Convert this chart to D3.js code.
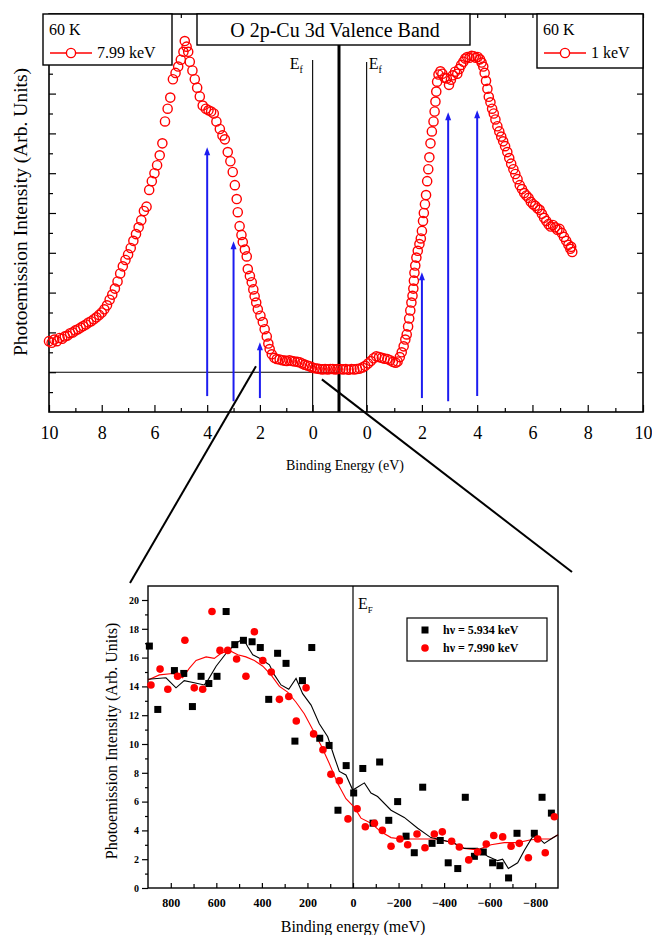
<!DOCTYPE html>
<html>
<head>
<meta charset="utf-8">
<script src="https://cdn.jsdelivr.net/npm/d3@7"></script>
<style>
  body { margin: 0; background: #fff; }
  svg { display: block; }
  text { font-family: "Liberation Serif", "Times New Roman", serif; fill: #000; }
</style>
</head>
<body>
<svg id="chart" width="652" height="935"></svg>
<script>
// ---------- Valence band spectra (binding energy in eV, intensity in arb. units) ----------
const energy799 = [10.0, 9.9, 9.8, 9.7, 9.6, 9.5, 9.4, 9.3, 9.2, 9.1, 9.0, 8.9, 8.8, 8.7, 8.6, 8.5, 8.4, 8.3, 8.2, 8.1,
  8.0, 7.9, 7.8, 7.7, 7.6, 7.5, 7.4, 7.3, 7.2, 7.1, 7.0, 6.9, 6.8, 6.7, 6.6, 6.5, 6.4, 6.3, 6.2, 6.1,
  6.0, 5.9, 5.8, 5.7, 5.6, 5.5, 5.4, 5.3, 5.2, 5.1, 5.0, 4.9, 4.85, 4.78, 4.72, 4.66, 4.56, 4.47, 4.38, 4.28,
  4.17, 4.05, 3.95, 3.85, 3.75, 3.65, 3.52, 3.42, 3.33, 3.22, 3.12, 3.03, 2.95, 2.88, 2.84, 2.77, 2.70, 2.65, 2.57, 2.50,
  2.46, 2.38, 2.31, 2.25, 2.20, 2.14, 2.08, 1.98, 1.89, 1.82, 1.74, 1.68, 1.63, 1.55, 1.45, 1.36, 1.25, 1.15, 1.05, 0.98,
  0.88, 0.78, 0.68, 0.58, 0.49, 0.40, 0.30, 0.20, 0.11, 0.02, -0.08, -0.18, -0.27, -0.37, -0.47, -0.57, -0.67, -0.76, -0.86, -0.95];
const intensity799 = [0.78, 0.74, 0.82, 0.78, 0.86, 0.84, 0.90, 0.92, 0.98, 1.00, 1.05, 1.08, 1.12, 1.16, 1.20, 1.25, 1.28, 1.33, 1.38, 1.44,
  1.50, 1.58, 1.68, 1.82, 1.95, 2.10, 2.28, 2.48, 2.66, 2.82, 2.96, 3.12, 3.30, 3.47, 3.64, 3.82, 4.05, 4.16, 4.58, 4.80,
  5.00, 5.20, 5.45, 5.75, 6.30, 6.62, 6.90, 7.36, 7.52, 7.68, 7.85, 8.05, 8.32, 8.18, 8.05, 7.80, 7.58, 7.36, 7.15, 6.93,
  6.70, 6.62, 6.58, 6.55, 6.50, 6.30, 6.11, 5.95, 5.85, 5.53, 5.30, 5.03, 4.70, 4.35, 4.02, 3.67, 3.45, 3.27, 3.08, 2.91,
  2.59, 2.42, 2.26, 2.08, 1.91, 1.75, 1.58, 1.42, 1.26, 1.08, 0.90, 0.72, 0.58, 0.45, 0.36, 0.33, 0.32, 0.30, 0.29, 0.28,
  0.30, 0.28, 0.27, 0.26, 0.25, 0.22, 0.19, 0.17, 0.15, 0.12, 0.10, 0.09, 0.08, 0.07, 0.08, 0.07, 0.08, 0.08, 0.07, 0.08];

const energy1k = [-0.95, -0.85, -0.75, -0.65, -0.55, -0.45, -0.35, -0.25, -0.15, -0.05, 0.05, 0.15, 0.25, 0.35, 0.45, 0.55, 0.65, 0.75, 0.85, 0.95,
  1.05, 1.12, 1.20, 1.27, 1.34, 1.40, 1.45, 1.50, 1.54, 1.58, 1.62, 1.66, 1.69, 1.71, 1.73, 1.76, 1.80, 1.85, 1.91, 1.96,
  2.00, 2.04, 2.07, 2.11, 2.15, 2.19, 2.23, 2.27, 2.31, 2.36, 2.42, 2.46, 2.49, 2.52, 2.55, 2.60, 2.67, 2.74, 2.82, 2.90,
  2.98, 3.05, 3.12, 3.20, 3.28, 3.35, 3.42, 3.50, 3.57, 3.64, 3.72, 3.80, 3.88, 3.95, 4.02, 4.10, 4.16, 4.22, 4.27, 4.32,
  4.37, 4.42, 4.48, 4.54, 4.60, 4.66, 4.73, 4.80, 4.87, 4.94, 5.01, 5.09, 5.16, 5.23, 5.31, 5.38, 5.46, 5.54, 5.62, 5.70,
  5.78, 5.86, 5.94, 6.02, 6.10, 6.18, 6.26, 6.34, 6.42, 6.50, 6.58, 6.66, 6.74, 6.82, 6.90, 6.98, 7.06, 7.14, 7.22, 7.30,
  7.37, 7.44, 7.40];
const intensity1k = [0.08, 0.07, 0.08, 0.06, 0.08, 0.07, 0.08, 0.09, 0.12, 0.16, 0.22, 0.28, 0.35, 0.40, 0.38, 0.36, 0.34, 0.33, 0.30, 0.26,
  0.24, 0.27, 0.38, 0.50, 0.65, 0.82, 0.95, 1.15, 1.35, 1.55, 1.75, 1.92, 2.10, 2.30, 2.50, 2.68, 2.88, 3.05, 3.22, 3.36,
  3.55, 3.80, 4.00, 4.22, 4.45, 4.80, 5.10, 5.40, 5.75, 6.05, 6.30, 6.55, 6.80, 7.05, 7.30, 7.48, 7.56, 7.50, 7.40, 7.38,
  7.22, 7.35, 7.46, 7.55, 7.50, 7.62, 7.72, 7.80, 7.88, 7.92, 7.90, 7.95, 7.94, 7.90, 7.92, 7.86, 7.78, 7.68, 7.52, 7.32,
  7.12, 6.92, 6.78, 6.62, 6.50, 6.35, 6.18, 6.05, 5.92, 5.80, 5.68, 5.53, 5.38, 5.24, 5.10, 4.98, 4.85, 4.70, 4.60, 4.50,
  4.44, 4.38, 4.28, 4.22, 4.18, 4.12, 4.08, 3.98, 3.88, 3.80, 3.72, 3.66, 3.70, 3.64, 3.58, 3.60, 3.50, 3.40, 3.30, 3.20,
  3.10, 3.02, 3.15];

// Arrows marking features (energy, top, base) for each half
const arrowEnergyLeft = [4, 3, 2];
const arrowTopLeft = [5.65, 3.29, 0.75];
const arrowBaseLeft = [-0.6, -0.73, -0.65];
const arrowEnergyRight = [2, 2.95, 4];
const arrowTopRight = [2.51, 6.53, 6.58];
const arrowBaseRight = [-0.65, -0.73, -0.6];

const topTicksLeft = [10, 8, 6, 4, 2, 0];
const topTicksRight = [0, 2, 4, 6, 8, 10];

// ---------- Near-Fermi-level detail (meV, arb. units) ----------
const blackE = [894, 857, 784, 743, 705, 667, 633, 597, 557, 519, 481, 443, 407, 370, 331, 294, 255, 222, 181, 146,
  105, 66, 30, -3, -43, -88, -117, -157, -196, -233, -269, -306, -347, -383, -418, -460, -493, -533, -572, -613,
  -645, -683, -720, -796, -830, -871];
const blackI = [16.8, 12.4, 15.1, 14.9, 12.6, 14.7, 14.2, 14.7, 19.2, 16.9, 17.2, 17.1, 16.7, 13.1, 16.3, 15.6, 10.2, 14.4, 16.7, 10.4,
  9.9, 5.4, 8.5, 6.6, 8.3, 4.5, 8.75, 4.7, 6.0, 3.6, 2.45, 7.0, 3.1, 3.3, 1.75, 1.35, 6.3, 2.2, 2.5, 1.75,
  1.55, 0.7, 3.8, 3.8, 6.3, 5.2];

const redE = [887, 847, 813, 770, 738, 697, 660, 619, 584, 550, 511, 470, 433, 396, 359, 323, 282, 249, 206, 173,
  132, 97, 60, 22, -18, -54, -94, -129, -167, -206, -240, -281, -316, -357, -392, -433, -467, -508, -547, -585,
  -618, -657, -694, -730, -770, -811, -844, -884];
const redI = [14.1, 15.2, 13.8, 14.7, 17.2, 13.9, 13.8, 19.2, 16.5, 16.5, 15.9, 14.7, 17.8, 15.8, 15.0, 13.1, 13.3, 11.6, 13.9, 10.7,
  9.6, 7.9, 7.45, 4.8, 5.5, 4.25, 4.5, 4.0, 2.9, 3.4, 3.0, 3.75, 2.8, 3.75, 3.9, 3.25, 2.85, 1.95, 2.5, 3.05,
  3.65, 3.55, 2.9, 3.1, 2.1, 3.4, 2.45, 4.95];

const blackLineE = [900, 821, 777, 741, 697, 653, 638, 601, 557, 514, 481, 462, 440, 404, 367, 345, 316, 282, 250, 221,
  184, 148, 111, 82, 60, 31, 1, -50, -79, -108, -167, -225, -284, -342, -401, -445, -489, -547, -591, -635,
  -657, -682, -723, -752, -788, -810, -840, -869, -900];
const blackLineI = [14.5, 14.6, 13.9, 14.4, 14.25, 14.1, 14.4, 15.4, 16.3, 17.0, 17.3, 16.75, 16.2, 15.9, 15.5, 14.8, 14.1, 13.8, 14.55, 13.5,
  12.7, 11.4, 10.5, 9.1, 8.1, 7.85, 6.8, 7.3, 6.6, 6.35, 5.4, 4.9, 4.15, 3.5, 3.3, 3.1, 2.75, 2.75, 2.2, 1.9,
  2.0, 1.35, 1.75, 2.6, 3.55, 3.55, 3.1, 3.4, 3.7];

const redLineE = [900, 850, 791, 748, 719, 689, 645, 609, 579, 543, 506, 470, 433, 396, 360, 323, 287, 250, 214, 177,
  140, 104, 67, 31, -6, -35, -79, -123, -167, -211, -284, -357, -430, -489, -547, -606, -664, -723, -782, -825,
  -869, -900];
const redLineI = [14.45, 14.8, 14.9, 14.6, 15.25, 15.8, 16.05, 15.95, 16.3, 16.5, 16.2, 16.05, 15.8, 15.4, 14.8, 14.0, 13.6, 12.9, 12.1, 11.0,
  9.9, 8.65, 7.25, 6.2, 5.6, 4.85, 4.5, 3.9, 3.5, 3.4, 3.4, 3.4, 3.2, 2.75, 2.65, 3.0, 3.15, 3.15, 3.35, 3.4,
  3.4, 3.7];

const insetXTicks = [800, 600, 400, 200, 0, -200, -400, -600, -800];
const insetYTicks = [0, 2, 4, 6, 8, 10, 12, 14, 16, 18, 20];

const RED = "#ff0000", BLUE = "#1c1cf0";
const svg = d3.select("#chart");

// ================= Upper panel =================
const P = { l: 49, r: 643, t: 14, b: 412, mid: 339 };
const xL = d3.scaleLinear().domain([10, -1]).range([P.l, P.mid]);
const xR = d3.scaleLinear().domain([-1, 10]).range([P.mid, P.r]);
const yT = d3.scaleLinear().domain([-1, 9]).range([P.b, P.t]);

function axis(gen, scale, vals, size, pad, transform, withLabels, fontSize, weight) {
  const a = gen(scale).tickValues(vals).tickSizeInner(size).tickSizeOuter(0).tickPadding(pad);
  if (!withLabels) a.tickFormat("");
  const g = svg.append("g").attr("transform", transform).call(a);
  g.select(".domain").remove();
  g.selectAll(".tick line").attr("stroke", "#000").attr("stroke-width", 1.2);
  g.attr("font-family", null).attr("font-size", null);
  g.selectAll("text").style("font-size", fontSize + "px").style("font-weight", weight || "normal")
    .style("font-family", "'Liberation Serif', serif").attr("fill", "#000");
  return g;
}

// bottom axis: major labelled even ticks, minor odd ticks (inward)
axis(d3.axisBottom, xL, topTicksLeft, -7, 14, `translate(0,${P.b})`, true, 18);
axis(d3.axisBottom, xL, [9, 7, 5, 3, 1], -4, 3, `translate(0,${P.b})`, false);
axis(d3.axisBottom, xR, topTicksRight, -7, 14, `translate(0,${P.b})`, true, 18);
axis(d3.axisBottom, xR, [1, 3, 5, 7, 9], -4, 3, `translate(0,${P.b})`, false);
// top axis mirror
axis(d3.axisTop, xL, d3.range(0, 11), -4, 3, `translate(0,${P.t})`, false);
axis(d3.axisTop, xR, d3.range(0, 11), -4, 3, `translate(0,${P.t})`, false);
// left axis: majors and halves
axis(d3.axisLeft, yT, d3.range(0, 10), -7, 3, `translate(${P.l},0)`, false);
axis(d3.axisLeft, yT, d3.range(-0.5, 9, 1), -4, 3, `translate(${P.l},0)`, false);
// right axis
axis(d3.axisRight, yT, d3.range(0, 10), -6, 3, `translate(${P.r},0)`, false);

svg.append("rect").attr("x", P.l).attr("y", P.t).attr("width", P.r - P.l).attr("height", P.b - P.t)
  .attr("fill", "none").attr("stroke", "#000").attr("stroke-width", 1.6);

// zero-intensity reference line
svg.append("line").attr("x1", P.l).attr("x2", P.mid).attr("y1", yT(0)).attr("y2", yT(0))
  .attr("stroke", "#000").attr("stroke-width", 1.1);

// Fermi level markers
svg.append("line").attr("x1", xL(0)).attr("x2", xL(0)).attr("y1", 60).attr("y2", P.b)
  .attr("stroke", "#000").attr("stroke-width", 1.1);
svg.append("line").attr("x1", xR(0)).attr("x2", xR(0)).attr("y1", 62).attr("y2", P.b)
  .attr("stroke", "#000").attr("stroke-width", 1.1);
function efLabel(x, y, sub) {
  const t = svg.append("text").attr("x", x).attr("y", y).style("font-size", "16px");
  t.append("tspan").text("E");
  t.append("tspan").attr("dy", 4).style("font-size", "10px").text(sub);
}
efLabel(xL(0) - 23, 69, "f");
efLabel(xR(0) + 2, 69, "f");

// divider between the two spectra
svg.append("line").attr("x1", P.mid).attr("x2", P.mid).attr("y1", 45).attr("y2", P.b)
  .attr("stroke", "#000").attr("stroke-width", 3);

// spectra
svg.append("g").selectAll("circle").data(d3.zip(energy799, intensity799)).join("circle")
  .attr("cx", d => xL(d[0])).attr("cy", d => yT(d[1])).attr("r", 4.6)
  .attr("fill", "none").attr("stroke", RED).attr("stroke-width", 1.4);
svg.append("g").selectAll("circle").data(d3.zip(energy1k, intensity1k)).join("circle")
  .attr("cx", d => xR(d[0])).attr("cy", d => yT(d[1])).attr("r", 4.6)
  .attr("fill", "none").attr("stroke", RED).attr("stroke-width", 1.4);

// arrows
function arrows(xs, es, tops, bases) {
  const g = svg.append("g");
  es.forEach((e, i) => {
    const x = xs(e), yt = yT(tops[i]), yb = yT(bases[i]);
    g.append("line").attr("x1", x).attr("x2", x).attr("y1", yb).attr("y2", yt + 5)
      .attr("stroke", BLUE).attr("stroke-width", 2);
    g.append("path").attr("d", `M${x - 3},${yt + 8}L${x + 3},${yt + 8}L${x},${yt}Z`).attr("fill", BLUE);
  });
}
arrows(xL, arrowEnergyLeft, arrowTopLeft, arrowBaseLeft);
arrows(xR, arrowEnergyRight, arrowTopRight, arrowBaseRight);

// title box
svg.append("rect").attr("x", 197).attr("y", P.t).attr("width", 273).attr("height", 31)
  .attr("fill", "#fff").attr("stroke", "#000").attr("stroke-width", 1.4);
svg.append("text").attr("x", 335).attr("y", 37).attr("text-anchor", "middle")
  .style("font-size", "20px").text("O 2p-Cu 3d Valence Band");

// legends
function legend(x, w, h, label) {
  svg.append("rect").attr("x", x).attr("y", P.t).attr("width", w).attr("height", h)
    .attr("fill", "#fff").attr("stroke", "#000").attr("stroke-width", 1.4);
  svg.append("text").attr("x", x + 6).attr("y", 35).style("font-size", "16px").text("60 K");
  svg.append("line").attr("x1", x + 7).attr("x2", x + 49).attr("y1", 53).attr("y2", 53)
    .attr("stroke", RED).attr("stroke-width", 1.4);
  svg.append("circle").attr("cx", x + 28).attr("cy", 53).attr("r", 4.6).attr("fill", "#fff")
    .attr("stroke", RED).attr("stroke-width", 1.4);
  svg.append("text").attr("x", x + 54).attr("y", 58).style("font-size", "16px").text(label);
}
legend(43, 129, 51, "7.99 keV");
legend(537, 106, 54, "1 keV");

// axis titles
svg.append("text").attr("x", 345).attr("y", 470).attr("text-anchor", "middle")
  .style("font-size", "14px").text("Binding Energy (eV)");
svg.append("text").attr("transform", "translate(27,212) rotate(-90)").attr("text-anchor", "middle")
  .style("font-size", "19.5px").text("Photoemission Intensity (Arb. Units)");

// ================= Inset (near E_F) =================
const Q = { l: 148, r: 558, t: 586, b: 888 };
const xI = d3.scaleLinear().domain([900, -900]).range([Q.l, Q.r]);
const yI = d3.scaleLinear().domain([0, 20]).range([Q.b, 600]);

// zoom connectors from the upper panel to the inset
svg.append("line").attr("x1", xL(2.15)).attr("y1", yT(0.15)).attr("x2", Q.l - 18).attr("y2", Q.t - 3)
  .attr("stroke", "#000").attr("stroke-width", 2);
svg.append("line").attr("x1", xL(-0.35)).attr("y1", yT(-0.18)).attr("x2", Q.r + 14).attr("y2", Q.t - 14)
  .attr("stroke", "#000").attr("stroke-width", 2);

axis(d3.axisLeft, yI, insetYTicks, 6, 3, `translate(${Q.l},0)`, true, 10, "bold");
axis(d3.axisLeft, yI, d3.range(1, 21, 2), 3, 3, `translate(${Q.l},0)`, false);
axis(d3.axisBottom, xI, insetXTicks, -5, 10, `translate(0,${Q.b})`, true, 12, "bold");
axis(d3.axisBottom, xI, [700, 500, 300, 100, -100, -300, -500, -700], -4, 3, `translate(0,${Q.b})`, false);

svg.append("rect").attr("x", Q.l).attr("y", Q.t).attr("width", Q.r - Q.l).attr("height", Q.b - Q.t)
  .attr("fill", "#fff").attr("fill-opacity", 0).attr("stroke", "#000").attr("stroke-width", 1.4);

svg.append("line").attr("x1", xI(0)).attr("x2", xI(0)).attr("y1", Q.t).attr("y2", Q.b)
  .attr("stroke", "#000").attr("stroke-width", 1.2);
{
  const t = svg.append("text").attr("x", xI(0) + 5).attr("y", 609).style("font-size", "16px");
  t.append("tspan").text("E");
  t.append("tspan").attr("dy", 4).style("font-size", "9px").text("F");
}

const line = d3.line().x(d => xI(d[0])).y(d => yI(d[1]));
svg.append("path").datum(d3.zip(redLineE, redLineI)).attr("d", line)
  .attr("fill", "none").attr("stroke", RED).attr("stroke-width", 1.1);
svg.append("path").datum(d3.zip(blackLineE, blackLineI)).attr("d", line)
  .attr("fill", "none").attr("stroke", "#000").attr("stroke-width", 1.1);

svg.append("g").selectAll("rect").data(d3.zip(blackE, blackI)).join("rect")
  .attr("x", d => xI(d[0]) - 3.5).attr("y", d => yI(d[1]) - 3.5).attr("width", 7).attr("height", 7)
  .attr("fill", "#000");
svg.append("g").selectAll("circle").data(d3.zip(redE, redI)).join("circle")
  .attr("cx", d => xI(d[0])).attr("cy", d => yI(d[1])).attr("r", 3.8).attr("fill", RED);

// inset legend
svg.append("rect").attr("x", 407).attr("y", 618).attr("width", 140).attr("height", 43)
  .attr("fill", "#fff").attr("stroke", "#000").attr("stroke-width", 1.2);
svg.append("rect").attr("x", 421.5).attr("y", 626.5).attr("width", 7).attr("height", 7).attr("fill", "#000");
svg.append("circle").attr("cx", 425).attr("cy", 648).attr("r", 3.8).attr("fill", RED);
svg.append("text").attr("x", 443).attr("y", 634).style("font-size", "12px").style("font-weight", "bold")
  .text("hν = 5.934 keV");
svg.append("text").attr("x", 443).attr("y", 652).style("font-size", "12px").style("font-weight", "bold")
  .text("hν = 7.990 keV");

svg.append("text").attr("x", (Q.l + Q.r) / 2).attr("y", 932).attr("text-anchor", "middle")
  .style("font-size", "16px").text("Binding energy (meV)");
svg.append("text").attr("transform", `translate(117,${(Q.t + Q.b) / 2 + 4}) rotate(-90)`).attr("text-anchor", "middle")
  .style("font-size", "16px").text("Photoemission Intensity (Arb. Units)");
</script>
</body>
</html>
